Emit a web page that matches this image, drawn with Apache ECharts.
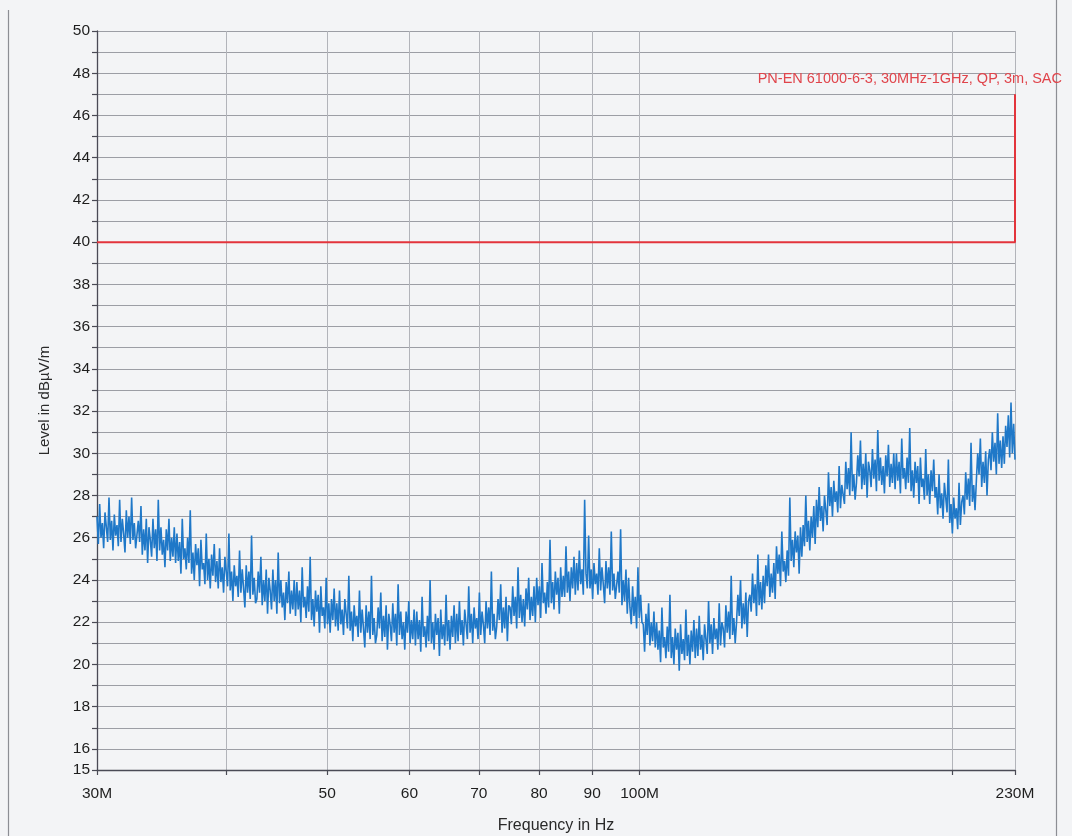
<!DOCTYPE html>
<html>
<head>
<meta charset="utf-8">
<script src="https://cdn.jsdelivr.net/npm/echarts@6/dist/echarts.min.js"></script>
<style>
  html, body { margin: 0; padding: 0; background: #f3f4f6; }
  #chart { width: 1072px; height: 836px; }
</style>
</head>
<body>
<div id="chart"></div>
<script>
// Sweep range of the receiver, MHz
const freqStartMHz = 30;
const freqStopMHz = 230;

// Axis ticks and labels
const xTickValues = [30, 40, 50, 60, 70, 80, 90, 100, 200, 230];
const xLabelValues = [30, 50, 60, 70, 80, 90, 100, 230];
const xLabelText = { 30: '30M', 100: '100M', 230: '230M' };
const yMin = 15, yMax = 50;

// Measured field strength, dBµV/m, one reading per sweep step (log-spaced)
const measuredLevels = [
  27.0,25.7,27.6,26.0,26.7,25.5,27.2,26.5,25.8,27.9,25.9,26.8,25.4,27.1,26.1,26.6,25.6,27.8,25.8,26.9,26.2,25.3,27.3,26.0,27.0,25.7,27.9,25.9,26.7,25.5,
  25.5,26.8,25.8,27.5,25.2,26.4,25.4,26.9,24.8,26.5,25.9,25.1,26.9,25.5,26.4,24.9,27.8,25.4,26.5,25.2,25.9,24.6,26.4,25.4,26.9,24.9,26.0,25.1,26.5,24.8,
  26.2,24.9,25.8,24.3,26.9,25.0,25.5,24.5,26.0,24.8,27.3,24.3,25.3,24.0,25.7,24.7,25.5,23.7,25.9,24.5,24.8,23.8,26.2,24.0,25.0,23.6,25.2,24.2,25.7,23.9,
  24.9,23.6,25.5,23.9,24.6,23.4,25.1,24.4,23.7,26.2,23.5,24.4,23.0,24.7,23.7,24.2,23.2,25.4,23.4,24.5,23.6,22.7,24.7,23.4,24.4,23.1,26.1,23.3,24.1,22.9,
  23.1,24.4,23.4,25.1,22.8,24.0,23.0,24.5,22.4,24.1,23.5,22.6,24.5,23.0,24.0,22.4,25.3,22.9,24.0,22.7,23.4,22.1,23.9,22.9,24.4,22.4,23.5,22.6,24.0,22.3,
  23.9,22.6,23.5,22.0,24.6,22.7,23.2,22.2,23.7,22.5,25.1,22.1,23.1,21.8,23.5,22.5,23.3,21.5,23.7,22.3,22.7,21.7,24.1,21.9,22.9,21.5,23.1,22.1,23.6,21.8,
  22.9,21.6,23.5,21.9,22.6,21.4,23.1,22.4,21.7,24.2,21.6,22.5,21.1,22.8,21.8,22.3,21.3,23.5,21.5,22.6,21.7,20.8,22.8,21.5,22.5,21.2,24.2,21.4,22.2,21.0,
  21.4,22.7,21.7,23.4,21.1,22.3,21.3,22.8,20.7,22.4,21.9,21.1,22.9,21.5,22.4,20.9,23.8,21.4,22.5,21.2,22.0,20.7,22.5,21.5,23.0,21.0,22.1,21.2,22.6,20.9,
  22.5,21.2,22.1,20.6,23.2,21.3,21.8,20.8,22.3,21.1,24.0,21.0,22.0,20.7,22.4,21.4,22.2,20.4,22.6,21.2,21.9,20.9,23.3,21.1,22.1,20.7,22.3,21.3,22.8,21.0,
  22.4,21.1,23.0,21.4,22.1,20.9,22.6,21.9,21.2,23.7,21.5,22.4,21.0,22.7,21.7,22.2,21.2,23.4,21.4,22.5,21.9,21.0,23.0,21.7,22.7,21.4,24.4,21.6,22.4,21.2,
  21.8,23.1,22.1,23.8,21.5,22.7,21.7,23.2,21.1,22.8,22.7,21.9,23.7,22.3,23.2,21.7,24.6,22.2,23.3,22.0,23.1,21.8,23.6,22.6,24.1,22.1,23.2,22.3,23.7,22.0,
  24.1,22.8,23.7,22.2,24.8,22.9,23.4,22.4,23.9,22.7,25.9,22.9,23.9,22.6,24.4,23.3,24.1,22.4,24.6,23.2,24.2,23.2,25.6,23.4,24.4,23.0,24.6,23.6,25.1,23.3,
  24.8,23.5,25.4,23.8,24.5,23.3,27.8,24.3,23.6,26.1,23.6,24.5,23.1,24.8,23.8,24.3,23.3,25.5,23.5,24.6,23.8,22.9,24.9,23.6,24.6,23.3,26.3,23.5,24.3,23.1,
  23.1,24.4,23.4,26.4,22.8,24.0,23.0,24.5,22.4,24.1,22.7,21.9,23.7,22.3,23.2,21.7,24.6,22.2,23.3,22.0,21.9,20.6,22.4,21.4,22.9,20.9,22.0,21.1,22.5,20.8,
  22.0,20.7,21.6,20.1,22.7,20.8,21.3,20.3,21.8,20.6,23.3,20.3,21.3,20.0,21.7,20.7,21.5,19.7,21.9,20.5,21.2,20.2,22.6,20.4,21.4,20.0,21.6,20.6,22.1,20.3,
  21.7,20.4,22.3,20.7,21.4,20.2,21.9,21.2,20.5,23.0,21.0,21.9,20.5,22.2,21.2,21.7,20.7,22.9,20.9,22.0,21.7,20.8,22.8,21.5,22.5,21.2,24.2,21.4,22.2,21.0,
  22.0,23.3,22.3,24.0,21.7,22.9,21.9,23.4,21.3,23.0,23.3,22.5,24.3,22.9,23.8,22.3,25.2,22.8,23.9,22.6,24.2,22.9,24.7,23.7,25.2,23.2,24.3,23.4,24.8,23.1,
  25.6,24.3,25.2,23.7,26.3,24.4,24.9,23.9,25.4,24.2,27.9,24.9,25.9,24.6,26.3,25.3,26.1,24.3,26.5,25.1,26.6,25.6,28.0,25.8,26.8,25.4,27.0,26.0,27.5,25.7,
  27.8,26.5,28.4,26.8,27.5,26.3,28.0,27.3,26.6,29.1,27.5,28.4,27.0,28.7,27.7,28.2,27.2,29.4,27.4,28.5,28.5,27.6,29.6,28.3,29.3,28.0,31.0,28.2,29.0,27.8,
  28.6,29.9,28.9,30.6,28.3,29.5,28.5,30.0,27.9,29.6,29.2,28.4,30.2,28.8,29.7,28.2,31.1,28.7,29.8,28.5,29.4,28.1,29.9,28.9,30.4,28.4,29.5,28.6,30.0,28.3,
  30.0,28.7,29.6,28.1,30.7,28.8,29.3,28.3,29.8,28.6,31.2,28.2,29.2,27.9,29.6,28.6,29.4,27.6,29.8,28.4,28.8,27.8,30.2,28.0,29.0,27.6,29.2,28.2,29.7,27.9,
  28.4,27.1,29.0,27.4,28.1,26.9,28.6,27.9,27.2,29.7,26.7,27.6,26.2,27.9,26.9,27.4,26.4,28.6,26.6,27.7,28.0,27.1,29.1,27.8,28.8,27.5,30.5,27.7,28.5,27.3,
  28.7,30.0,29.0,30.7,28.4,29.6,28.6,30.1,28.0,29.7,30.2,29.2,31.0,29.6,30.5,29.0,31.9,29.5,30.6,29.3,30.8,29.5,31.3,30.3,31.8,29.8,32.4,30.0,31.4,29.7
];

// Limit line of the standard
const limitFreqs = [30, 230, 230];
const limitLevels = [40, 40, 47];
const limitName = 'PN-EN 61000-6-3, 30MHz-1GHz, QP, 3m, SAC';

// Log-spaced sweep frequencies for the readings above
const sweepFreqs = measuredLevels.map((_, i) =>
  freqStartMHz * Math.pow(freqStopMHz / freqStartMHz, i / (measuredLevels.length - 1)));

const traceData = measuredLevels.map((v, i) => [sweepFreqs[i], v]);
const limitData = limitFreqs.map((f, i) => [f, limitLevels[i]]);

const font = 'Liberation Sans, Arial, sans-serif';
const chart = echarts.init(document.getElementById('chart'), null, { renderer: 'canvas' });

chart.setOption({
  animation: false,
  backgroundColor: '#f3f4f6',
  grid: { left: 97, right: 57, top: 31, bottom: 66, containLabel: false, outerBoundsMode: 'none' },
  xAxis: {
    type: 'log',
    logBase: 10,
    min: freqStartMHz,
    max: freqStopMHz,
    name: 'Frequency in Hz',
    nameLocation: 'middle',
    nameGap: 48,
    nameTextStyle: { fontSize: 16, color: '#2a2a2a', fontFamily: font },
    axisLine: { show: true, lineStyle: { color: '#4a4a55', width: 1.3 } },
    axisTick: { show: true, inside: false, length: 5, customValues: xTickValues, lineStyle: { color: '#4a4a55', width: 1.2 } },
    axisLabel: {
      customValues: xLabelValues,
      formatter: v => xLabelText[Math.round(v)] || String(Math.round(v)),
      margin: 16,
      fontSize: 15.5,
      color: '#1e1e1e',
      fontFamily: font
    },
    splitLine: { show: true, lineStyle: { color: '#b2b4ba', width: 1 } }
  },
  yAxis: {
    type: 'value',
    min: yMin,
    max: yMax,
    interval: 1,
    name: 'Level in dBµV/m',
    nameLocation: 'middle',
    nameGap: 45,
    nameTextStyle: { fontSize: 15, color: '#2a2a2a', fontFamily: font },
    axisLine: { show: true, lineStyle: { color: '#4a4a55', width: 1.3 } },
    axisTick: { show: true, inside: false, length: 5, lineStyle: { color: '#4a4a55', width: 1.2 } },
    axisLabel: {
      formatter: v => (v % 2 === 0 || v === yMin) ? String(v) : '',
      margin: 7,
      fontSize: 15.5,
      color: '#1e1e1e',
      fontFamily: font
    },
    splitLine: { show: true, lineStyle: { color: '#9c9ea5', width: 1 } }
  },
  graphic: [
    { type: 'line', shape: { x1: 8.5, y1: 10, x2: 8.5, y2: 836 }, style: { stroke: '#8c8e94', lineWidth: 1.2 } },
    { type: 'line', shape: { x1: 1056.5, y1: 0, x2: 1056.5, y2: 836 }, style: { stroke: '#8c8e94', lineWidth: 1.2 } }
  ],
  series: [
    {
      name: 'Level',
      type: 'line',
      data: traceData,
      showSymbol: false,
      symbol: 'none',
      sampling: false,
      lineStyle: { color: '#1f78c8', width: 1.6 },
      z: 3
    },
    {
      name: limitName,
      type: 'line',
      data: limitData,
      symbol: 'none',
      showSymbol: false,
      lineStyle: { color: '#e3343c', width: 2 },
      endLabel: {
        show: true,
        formatter: limitName,
        align: 'right',
        verticalAlign: 'bottom',
        distance: 0,
        offset: [47, -8],
        color: '#e0444b',
        fontSize: 14.5,
        fontFamily: font
      },
      z: 4
    }
  ]
});
</script>
</body>
</html>
